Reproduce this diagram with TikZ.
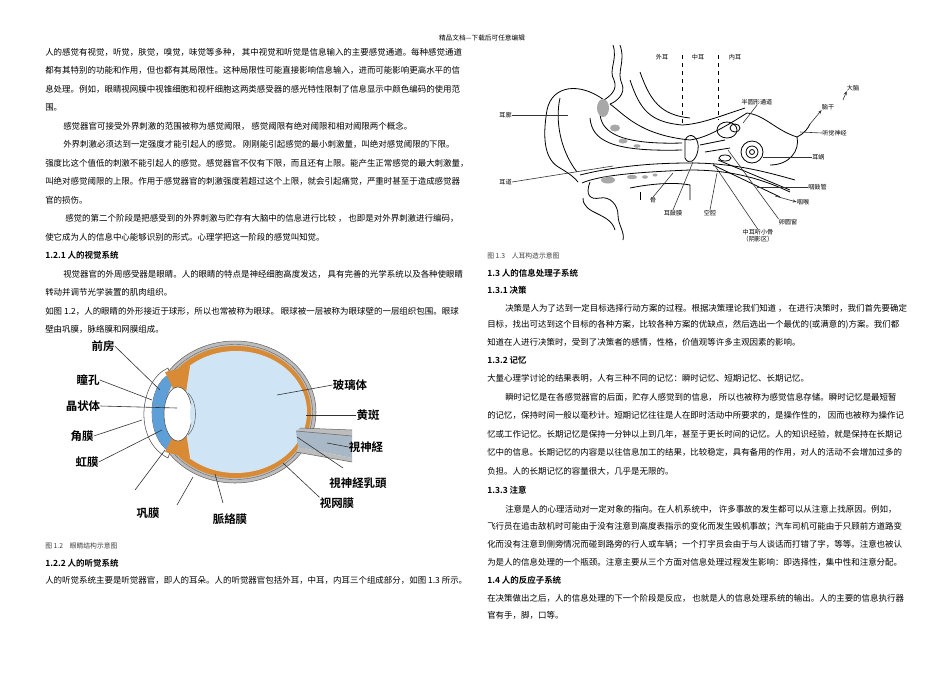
\documentclass[tikz,border=0pt]{standalone}
\usepackage{fontspec}
\setmainfont{Noto Sans CJK SC}[BoldFont={Noto Sans CJK SC Bold}]
\usetikzlibrary{arrows.meta}
\definecolor{scl}{HTML}{BDBDBD}
\definecolor{chor}{HTML}{D98A35}
\definecolor{vit}{HTML}{CFE5F5}
\definecolor{aq}{HTML}{5E9FD8}
\definecolor{nerve}{HTML}{A9B8C6}
\definecolor{blob}{HTML}{A8A8A8}
\tikzset{
 ln/.style={anchor=west,inner sep=0pt,font=\fontsize{6.35pt}{7pt}\selectfont},
 hd/.style={anchor=west,inner sep=0pt,font=\fontsize{6.35pt}{7pt}\selectfont\bfseries},
 captxt/.style={anchor=west,inner sep=0pt,font=\fontsize{5.1pt}{6pt}\selectfont,text=black!75},
 eyel/.style={inner sep=0pt,font=\fontsize{8.6pt}{9pt}\selectfont\bfseries},
 earl/.style={inner sep=0pt,font=\fontsize{4.6pt}{5pt}\selectfont},
 lead/.style={draw=black!80,line width=0.45pt},
 earline/.style={draw=black,line width=0.6pt},
}
\begin{document}
\begin{tikzpicture}[x=0.75pt,y=-0.75pt]
\useasboundingbox[fill=white] (0,0) rectangle (950,672);
\node[inner sep=0pt,font=\fontsize{5pt}{6pt}\selectfont] (hdr) at (482,38) {精品文档---下载后可任意编辑};
% left column
\node[ln] (l1) at (45,52) {人的感觉有视觉，听觉，肤觉，嗅觉，味觉等多种， 其中视觉和听觉是信息输入的主要感觉通道。每种感觉通道};
\node[ln] (l2) at (45,70.5) {都有其特别的功能和作用，但也都有其局限性。这种局限性可能直接影响信息输入，进而可能影响更高水平的信};
\node[ln] (l3) at (45,89) {息处理。例如，眼睛视网膜中视锥细胞和视杆细胞这两类感受器的感光特性限制了信息显示中颜色编码的使用范};
\node[ln] (l4) at (45,107.5) {围。};
\node[ln] (l5) at (63,126) {感觉器官可接受外界刺激的范围被称为感觉阈限， 感觉阈限有绝对阈限和相对阈限两个概念。};
\node[ln] (l6) at (63,144.5) {外界刺激必须达到一定强度才能引起人的感觉。 刚刚能引起感觉的最小刺激量，叫绝对感觉阈限的下限。};
\node[ln] (l7) at (45,163) {强度比这个值低的刺激不能引起人的感觉。感觉器官不仅有下限，而且还有上限。能产生正常感觉的最大刺激量，};
\node[ln] (l8) at (45,181.5) {叫绝对感觉阈限的上限。作用于感觉器官的刺激强度若超过这个上限，就会引起痛觉，严重时甚至于造成感觉器};
\node[ln] (l9) at (45,200) {官的损伤。};
\node[ln] (l10) at (65,218.5) {感觉的第二个阶段是把感受到的外界刺激与贮存有大脑中的信息进行比较 ， 也即是对外界刺激进行编码，};
\node[ln] (l11) at (45,237) {使它成为人的信息中心能够识别的形式。心理学把这一阶段的感觉叫知觉。};
\node[hd] (l12) at (45,255.5) {1.2.1 人的视觉系统};
\node[ln] (l13) at (63,274) {视觉器官的外周感受器是眼睛。人的眼睛的特点是神经细胞高度发达， 具有完善的光学系统以及各种使眼睛};
\node[ln] (l14) at (45,292.5) {转动并调节光学装置的肌肉组织。};
\node[ln] (l15) at (45,311) {如图 1.2，人的眼睛的外形接近于球形，所以也常被称为眼球。 眼球被一层被称为眼球壁的一层组织包围。眼球};
\node[ln] (l16) at (45,329.5) {壁由巩膜，脉络膜和网膜组成。};
% eye figure
\fill[scl] (235,412) ellipse [x radius=81,y radius=71];
\draw[black!60,line width=0.4pt] (235,412) ellipse [x radius=81,y radius=71];
\fill[chor] (235,412) ellipse [x radius=76,y radius=66];
\draw[black!60,line width=0.3pt] (235,412) ellipse [x radius=77.5,y radius=67.5];
\fill[vit] (236,412) ellipse [x radius=71,y radius=61];
% optic nerve
\fill[nerve] (296,431) -- (352,436) -- (352,458) -- (298,447) -- cycle;
\fill[scl] (300,428) -- (352,430) -- (352,436) -- (296,431) -- cycle;
\fill[scl] (298,447) -- (352,458) -- (352,462) -- (296,452) -- cycle;
\draw[black!60,line width=0.4pt] (300,428) -- (352,430) (296,452) -- (352,462) (296,431) -- (352,436);
% cornea and anterior chamber
\filldraw[fill=white,draw=black!70,line width=0.4pt] (168,368) .. controls (140,380) and (132,440) .. (168,458) -- (170,452) .. controls (146,438) and (146,386) .. (170,374) -- cycle;
\fill[aq] (170,374) .. controls (146,386) and (146,438) .. (170,452) -- (176,446) .. controls (162,430) and (162,392) .. (176,380) -- cycle;
% iris / ciliary
\fill[chor] (165,372) -- (190,366) -- (186,392) -- (176,394) -- cycle;
\fill[chor] (165,452) -- (190,458) -- (186,432) -- (176,430) -- cycle;
% lens
\filldraw[fill=white,draw=black!70,line width=0.4pt] (178,414) ellipse [x radius=14,y radius=27];
\fill[vit] (196,396) .. controls (188,405) and (188,423) .. (196,432) -- (200,432) -- (200,396) -- cycle;
\draw[black!60,line width=0.4pt] (188,393) .. controls (198,402) and (198,426) .. (188,435);
% eye labels
\node[eyel] (qf) at (103,346) {前房};
\node[eyel] (tk) at (88,380) {瞳孔};
\node[eyel] (jzt) at (83,406) {晶状体};
\node[eyel] (jm) at (82,436) {角膜};
\node[eyel] (hm) at (87,462) {虹膜};
\node[eyel] (gm) at (148,513) {巩膜};
\node[eyel] (mlm) at (230,519) {脈絡膜};
\node[eyel] (swm) at (337,503) {视网膜};
\node[eyel] (rt) at (358,483) {視神経乳頭};
\node[eyel] (sjj) at (366,447) {視神経};
\node[eyel] (hb) at (368,415) {黄斑};
\node[eyel] (blt) at (350,385) {玻璃体};
\coordinate (e1) at (160,390); \coordinate (e2) at (152,400); \coordinate (e3) at (177,408);
\coordinate (e4) at (142,420); \coordinate (e5) at (162,430); \coordinate (e6) at (165,450);
\coordinate (e6b) at (193,477); \coordinate (e7) at (215,474); \coordinate (e8) at (283,463);
\coordinate (e9) at (297,437); \coordinate (e10) at (327,443); \coordinate (e11) at (306,415);
\coordinate (e12) at (277,395); \coordinate (g2) at (177,505);
\draw[lead] (qf.east) -- (e1); \draw[lead] (tk.east) -- (e2); \draw[lead] (jzt.east) -- (e3);
\draw[lead] (jm.east) -- (e4); \draw[lead] (hm.east) -- (e5);
\draw[lead] (135,490) -- (e6); \draw[lead] (g2) -- (e6b);
\draw[lead] (223,503) -- (e7); \draw[lead] (swm.north west) -- (e8);
\draw[lead] (343,468) -- (e9); \draw[lead] (sjj.west) -- (e10);
\draw[lead] (hb.west) -- (e11); \draw[lead] (blt.west) -- (e12);
\node[captxt] (c12) at (45,546) {图 1.2\quad 眼睛结构示意图};
\node[hd] (h122) at (45,563) {1.2.2 人的听觉系统};
\node[ln] (l17) at (45,580) {人的听觉系统主要是听觉器官，即人的耳朵。人的听觉器官包括外耳，中耳，内耳三个组成部分，如图 1.3 所示。};
% ear figure
\draw[earline] (613,45) .. controls (618,60) and (608,70) .. (614,80) .. controls (618,90) and (610,96) .. (604,100);
\draw[earline] (620,45) .. controls (626,62) and (616,72) .. (622,84) .. controls (626,94) and (616,102) .. (610,104);
\draw[earline] (604,100) .. controls (580,82) and (552,85) .. (547,110) .. controls (542,140) and (545,160) .. (560,168) .. controls (570,174) and (575,178) .. (578,182);
\draw[earline] (560,98) .. controls (555,120) and (560,150) .. (577,172);
\draw[earline] (610,104) .. controls (625,115) and (640,135) .. (690,140) .. controls (705,138) and (720,130) .. (747,113) .. controls (765,115) and (775,130) .. (797,137) .. controls (805,133) and (808,128) .. (810,124);
\draw[earline] (630,80) .. controls (640,110) and (650,122) .. (682,125) .. controls (700,124) and (715,118) .. (745,108);
\draw[earline] (640,72) .. controls (650,100) and (660,115) .. (690,118);
\draw[earline] (600,112) .. controls (600,130) and (615,145) .. (682,143);
\draw[earline] (590,118) .. controls (592,140) and (610,152) .. (682,150);
\draw[earline] (580,175) .. controls (620,165) and (660,163) .. (690,163) .. controls (730,163) and (760,170) .. (795,180);
\draw[earline] (582,183) .. controls (600,175) and (640,172) .. (690,170) .. controls (730,170) and (760,178) .. (790,192);
\draw[earline] (590,182) .. controls (585,195) and (590,200) .. (600,198) .. controls (610,196) and (618,205) .. (618,215) .. controls (618,225) and (625,232) .. (623,240);
\draw[earline] (583,198) .. controls (583,215) and (610,212) .. (615,230);
\draw[earline] (630,188) .. controls (660,182) and (680,183) .. (690,185) -- (690,200);
\draw[earline] (640,200) -- (640,192);
\draw[earline] (713,165) -- (780,197) (718,160) -- (790,190);
\draw[earline] (797,137) .. controls (800,150) and (790,165) .. (770,165);
% blobs
\fill[blob] (603,108) ellipse [x radius=6,y radius=9];
\fill[blob] (615,128) ellipse [x radius=5,y radius=3.5];
\fill[blob] (623,141) ellipse [x radius=4.5,y radius=2.5];
\fill[blob] (637,146) ellipse [x radius=3.5,y radius=1.8];
\fill[blob] (608,180) ellipse [x radius=7,y radius=3.5];
\fill[blob] (632,177) ellipse [x radius=5,y radius=2.2];
\fill[blob] (645,177) ellipse [x radius=3,y radius=1.8];
\fill[blob] (655,175) ellipse [x radius=2.5,y radius=1.5];
% middle / inner ear
\draw[earline] (685,140) .. controls (690,130) and (700,138) .. (698,150) .. controls (696,162) and (688,165) .. (685,158) -- cycle;
\draw[earline] (700,145) -- (725,140) (705,152) -- (730,148);
\draw[earline] (727,130) ellipse [x radius=10,y radius=8];
\draw[earline] (735,128) ellipse [x radius=5,y radius=4];
\draw[earline] (752,152) circle (11) (752,152) circle (6) (752,152) circle (2.5);
\draw[earline] (725,158) ellipse [x radius=6,y radius=3];
% dashed dividers
\draw[dashed,line width=0.5pt] (682,55) -- (682,123);
\draw[dashed,line width=0.5pt] (718,55) -- (718,120);
% ear labels
\node[earl] (wer) at (662,57) {外耳};
\node[earl] (zer) at (698,57) {中耳};
\node[earl] (ner) at (735,57) {内耳};
\node[earl,anchor=east] (elk) at (512,115) {耳廓};
\node[earl,anchor=east] (edao) at (512,182) {耳道};
\node[earl] (gu) at (653,200) {骨};
\node[earl] (egm) at (673,213) {耳鼓膜};
\node[earl] (kq) at (710,213) {空腔};
\node[earl,align=center] (zeg) at (758,236) {中耳听小骨\\（阴影区）};
\node[earl] (lyc) at (788,222) {卵圆窗};
\node[earl] (yh) at (803,202) {咽喉};
\node[earl,anchor=west] (ygg) at (808,187) {咽鼓管};
\node[earl,anchor=west] (ew) at (812,157) {耳蜗};
\node[earl,anchor=west] (tjsj) at (822,133) {听觉神经};
\node[earl] (ng) at (828,107) {脑干};
\node[earl] (dn) at (853,88) {大脑};
\node[earl] (byx) at (757,102) {半圆形通道};
\draw[lead] (elk.east) -- (568,115);
\draw[lead] (edao.east) -- (613,166);
\draw[lead] (gu.north) -- (673,173);
\draw[lead] (egm.north) -- (693,162);
\draw[lead] (kq.north) -- (717,173);
\draw[lead] (zeg.north) -- (713,163);
\draw[lead] (lyc.north west) -- (728,150);
\draw[lead,-{Stealth[length=3pt]}] (775,196) -- (yh.west);
\draw[lead] (ygg.west) -- (757,187);
\draw[lead] (ew.west) -- (763,157);
\draw[lead] (tjsj.west) -- (800,132);
\draw[lead,-{Stealth[length=3pt]}] (810,124) -- (ng.south west);
\draw[lead,-{Stealth[length=3pt]}] (843,100) -- (dn.south west);
\draw[lead] (byx.south) -- (743,123);
% right column
\node[captxt] (c13) at (487,256) {图 1.3\quad 人耳构造示意图};
\node[hd] (h13) at (487,273) {1.3 人的信息处理子系统};
\node[hd] (h131) at (487,290) {1.3.1 决策};
\node[ln] (r1) at (505,308) {决策是人为了达到一定目标选择行动方案的过程。根据决策理论我们知道 ， 在进行决策时，我们首先要确定};
\node[ln] (r2) at (487,325) {目标，找出可达到这个目标的各种方案，比较各种方案的优缺点，然后选出一个最优的(或满意的)方案。我们都};
\node[ln] (r3) at (487,342) {知道在人进行决策时，受到了决策者的感情，性格，价值观等许多主观因素的影响。};
\node[hd] (h132) at (487,360) {1.3.2 记忆};
\node[ln] (r4) at (487,378) {大量心理学讨论的结果表明，人有三种不同的记忆：瞬时记忆、短期记忆、长期记忆。};
\node[ln] (r5) at (505,397) {瞬时记忆是在各感觉器官的后面，贮存人感觉到的信息， 所以也被称为感觉信息存储。瞬时记忆是最短暂};
\node[ln] (r6) at (487,415.5) {的记忆，保持时间一般以毫秒计。短期记忆往往是人在即时活动中所要求的，是操作性的， 因而也被称为操作记};
\node[ln] (r7) at (487,434) {忆或工作记忆。长期记忆是保持一分钟以上到几年，甚至于更长时间的记忆。人的知识经验，就是保持在长期记};
\node[ln] (r8) at (487,452.5) {忆中的信息。长期记忆的内容是以往信息加工的结果，比较稳定，具有备用的作用，对人的活动不会增加过多的};
\node[ln] (r9) at (487,471) {负担。人的长期记忆的容量很大，几乎是无限的。};
\node[hd] (h133) at (487,490) {1.3.3 注意};
\node[ln] (r10) at (505,509) {注意是人的心理活动对一定对象的指向。在人机系统中， 许多事故的发生都可以从注意上找原因。例如，};
\node[ln] (r11) at (487,527) {飞行员在追击敌机时可能由于没有注意到高度表指示的变化而发生毁机事故；汽车司机可能由于只顾前方道路变};
\node[ln] (r12) at (487,545) {化而没有注意到侧旁情况而碰到路旁的行人或车辆；一个打字员会由于与人谈话而打错了字，等等。注意也被认};
\node[ln] (r13) at (487,562.5) {为是人的信息处理的一个瓶颈。注意主要从三个方面对信息处理过程发生影响：即选择性，集中性和注意分配。};
\node[hd] (h14) at (487,580) {1.4 人的反应子系统};
\node[ln] (r14) at (487,598) {在决策做出之后，人的信息处理的下一个阶段是反应， 也就是人的信息处理系统的输出。人的主要的信息执行器};
\node[ln] (r15) at (487,615.5) {官有手，脚，口等。};
\end{tikzpicture}
\end{document}
